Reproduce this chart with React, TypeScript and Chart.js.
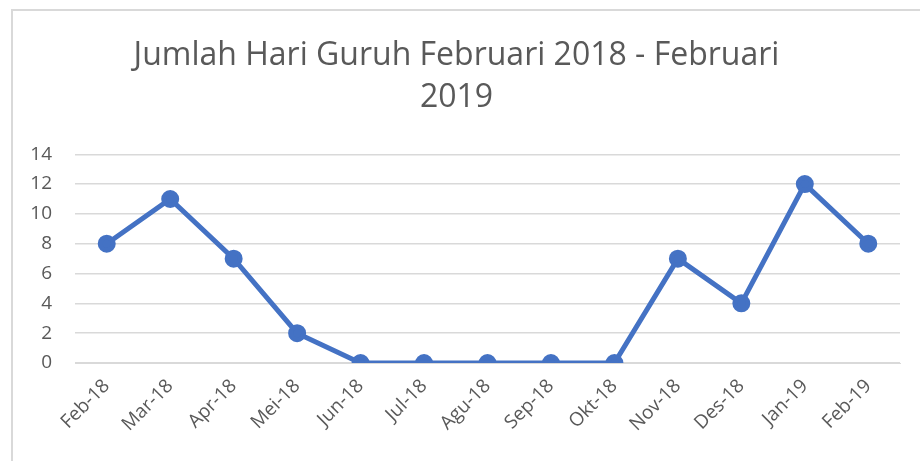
import React, { useEffect, useRef } from "react";
import { Chart, registerables } from "chart.js";

Chart.register(...registerables);

const categories = ["Feb-18", "Mar-18", "Apr-18", "Mei-18", "Jun-18", "Jul-18", "Agu-18", "Sep-18", "Okt-18", "Nov-18", "Des-18", "Jan-19", "Feb-19"];
const hariGuruh = [8, 11, 7, 2, 0, 0, 0, 0, 0, 7, 4, 12, 8];
const titleLines = ["Jumlah Hari Guruh Februari 2018 - Februari", "2019"];

export default function App() {
  const ref = useRef<HTMLCanvasElement>(null);
  useEffect(() => {
    if (!ref.current) return;
    const chart = new Chart(ref.current, {
      type: "line",
      data: {
        labels: categories,
        datasets: [
          {
            data: hariGuruh,
            borderColor: "#4472c4",
            backgroundColor: "#4472c4",
            borderWidth: 5,
            pointRadius: 6.5,
            pointHoverRadius: 6.5,
            pointBackgroundColor: "#4472c4",
            pointBorderColor: "#4472c4",
            tension: 0,
          },
        ],
      },
      options: {
        animation: false,
        responsive: false,
        maintainAspectRatio: false,
        layout: { padding: { left: 0, right: 20, top: 0, bottom: 0 } },
        plugins: {
          legend: { display: false },
          tooltip: { enabled: false },
          title: {
            display: true,
            text: titleLines,
            color: "#595959",
            font: { family: "'Open Sans', sans-serif", size: 32, weight: "400" as any, lineHeight: 1.34 },
            padding: { top: 23, bottom: 34.5 },
          },
        },
        scales: {
          x: {
            offset: true,
            grid: { display: false, drawTicks: false },
            border: { display: true, color: "#d9d9d9", width: 1 },
            ticks: {
              color: "#595959",
              font: { family: "'Open Sans', sans-serif", size: 19 },
              minRotation: 45,
              maxRotation: 45,
              padding: 12,
              autoSkip: false,
            },
            afterFit: (s: any) => {
              s.height = 98;
            },
          },
          y: {
            min: 0,
            max: 14,
            grid: { color: "#d9d9d9", lineWidth: 1.5, drawTicks: false },
            border: { display: false },
            ticks: {
              stepSize: 2,
              color: "#595959",
              font: { family: "'Open Sans', sans-serif", size: 19 },
              padding: 23,
            },
            afterFit: (s: any) => {
              s.width = 62;
            },
          },
        },
      },
    });
    return () => chart.destroy();
  }, []);

  return (
    <div
      style={{
        position: "fixed",
        left: 11,
        top: 9,
        width: 920,
        height: 460,
        borderLeft: "2px solid #d9d9d9",
        borderTop: "2px solid #d9d9d9",
        background: "#fff",
      }}
    >
      <canvas ref={ref} width={907} height={450} style={{ display: "block" }} />
    </div>
  );
}
